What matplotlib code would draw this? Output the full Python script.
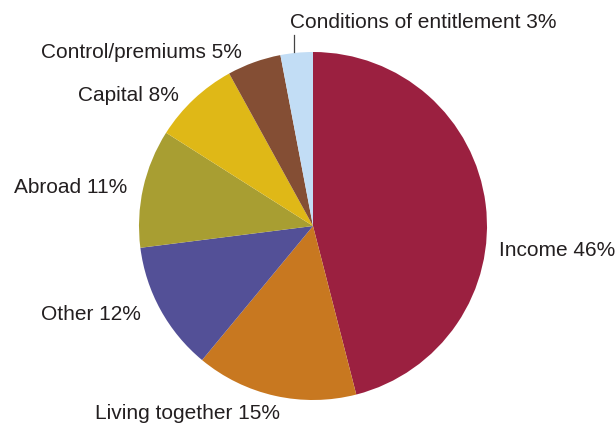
import matplotlib.pyplot as plt

categories = ['Income', 'Living together', 'Other', 'Abroad', 'Capital',
              'Control/premiums', 'Conditions of entitlement']
shares = [46, 15, 12, 11, 8, 5, 3]
colors = ['#9b2040', '#c87820', '#535097', '#a89e32', '#dfb817',
          '#844e34', '#c2ddf5']

# label anchor positions in axes data units (pie radius = 1), and alignment
label_pos = [(1.07, -0.14), (-0.72, -1.08), (-0.99, -0.51), (-1.07, 0.22),
             (-0.77, 0.75), (-0.41, 1.0), (-0.13, 1.17)]
label_ha = ['left', 'center', 'right', 'right', 'right', 'right', 'left']

W, H = 616, 425
cx, cy, r = 313, 226, 174

fig = plt.figure(figsize=(W / 100, H / 100), dpi=100)
ax = fig.add_axes([(cx - r) / W, (H - cy - r) / H, 2 * r / W, 2 * r / H])
ax.pie(shares, colors=colors, startangle=90, counterclock=False,
       radius=1, wedgeprops=dict(linewidth=0))
ax.set_xlim(-1, 1)
ax.set_ylim(-1, 1)
ax.axis('off')

for cat, val, (x, y), ha in zip(categories, shares, label_pos, label_ha):
    ax.text(x, y, f'{cat} {val}%', ha=ha, va='center', fontsize=15,
            family='Liberation Sans', color='#231f20', clip_on=False)

# leader line for the small slice
ax.plot([-0.11, -0.11], [1.0, 1.1], color='#444444', lw=0.9, clip_on=False)

fig.savefig('out.png', dpi=100)
